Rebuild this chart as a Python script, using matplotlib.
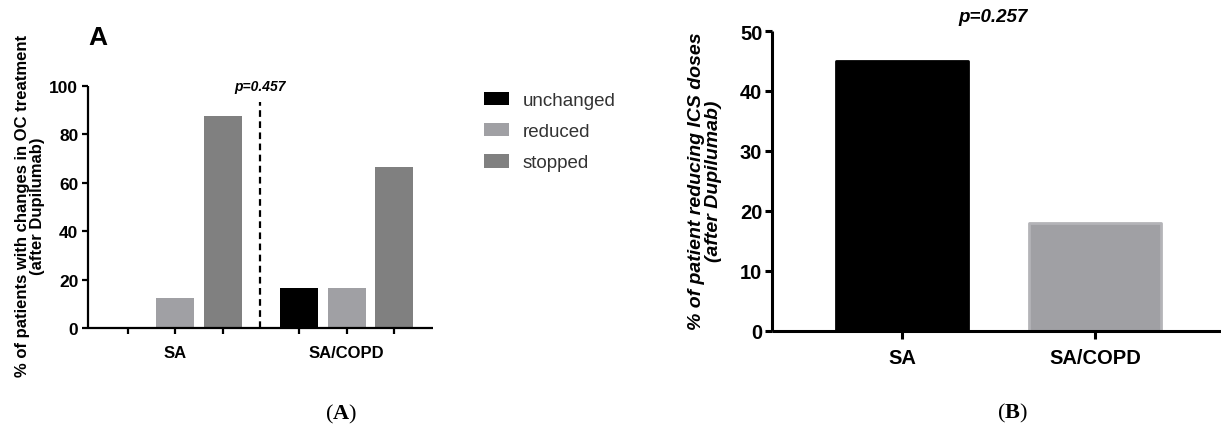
import matplotlib.pyplot as plt
import numpy as np

plt.rcParams['font.family'] = ['Liberation Sans', 'DejaVu Sans']
plt.rcParams['mathtext.fontset'] = 'custom'
plt.rcParams['mathtext.rm'] = 'Liberation Serif'
plt.rcParams['mathtext.bf'] = 'Liberation Serif:bold'

# panel A data
groups_a = ['SA', 'SA/COPD']
series_a = ['unchanged', 'reduced', 'stopped']
unchanged = [0, 16.7]
reduced = [12.5, 16.7]
stopped = [87.5, 66.7]
colors_a = ['#000000', '#A0A0A4', '#808080']

# panel B data
groups_b = ['SA', 'SA/COPD']
ics_reduce = [45.0, 18.0]
colors_b = ['#000000', '#A0A0A4']

W, H = 1221, 427
fig = plt.figure(figsize=(W / 100, H / 100), dpi=100)


def style_axes(ax, lw):
    for s in ['top', 'right']:
        ax.spines[s].set_visible(False)
    for s in ['left', 'bottom']:
        ax.spines[s].set_linewidth(lw)
        ax.spines[s].set_capstyle('butt')
    ax.tick_params(width=lw, direction='out')


# ---- panel A ----
axA = fig.add_axes([88 / W, 1 - 329 / H, (433 - 88) / W, (329 - 87) / H])
style_axes(axA, 1.6)
group_x = [0, 3.6]
vals = [unchanged, reduced, stopped]
ticks, ticklabels = [], []
for gi, gx in enumerate(group_x):
    for si in range(3):
        x = gx + si
        ticks.append(x)
        ticklabels.append(groups_a[gi] if si == 1 else '')
        axA.bar(x, vals[si][gi], width=0.8, color=colors_a[si],
                label=series_a[si] if gi == 0 else None)
axA.set_xlim(-0.84, 6.42)
axA.set_ylim(0, 100)
axA.set_yticks(np.arange(0, 101, 20))
axA.set_xticks(ticks)
axA.set_xticklabels(ticklabels, fontsize=12, fontweight='bold')
axA.tick_params(axis='x', length=4, pad=8)
axA.tick_params(axis='y', length=4, pad=3)
for lab in axA.get_yticklabels():
    lab.set_fontsize(12.5)
    lab.set_fontweight('bold')
axA.plot([2.78, 2.78], [0, 93.4], ls=(0, (3, 2)), color='black', lw=1.6, clip_on=False)
axA.text(2.78, 100, 'p=0.457', ha='center', va='center', fontsize=10,
         fontweight='bold', fontstyle='italic')
axA.set_ylabel('% of patients with changes in OC treatment\n(after Dupilumab)',
               fontsize=12, fontweight='bold', linespacing=1.05, va='center')
axA.yaxis.set_label_coords(-0.168, 0.508)
fig.text(88 / W, 1 - 38 / H, 'A', fontsize=19, fontweight='bold', ha='left', va='center')

fig.legend(loc='upper left', bbox_to_anchor=(484 / W, 1 - 93 / H), frameon=False,
           fontsize=13.5, handlelength=1.33, handleheight=0.7, labelspacing=0.75,
           handletextpad=0.75, borderpad=0, borderaxespad=0, labelcolor='#333333')

# ---- panel B ----
axB = fig.add_axes([772 / W, 1 - 332 / H, (1230 - 772) / W, (332 - 32) / H])
style_axes(axB, 2.2)
bx = np.arange(len(groups_b))
bars = axB.bar(bx, ics_reduce, width=0.68, color=colors_b, edgecolor=colors_b,
               linewidth=2, joinstyle='round', capstyle='round')
bars[1].set_edgecolor('#B4B4B8')
axB.set_xlim(-0.674, 1.699)
axB.set_ylim(0, 50)
axB.set_yticks(np.arange(0, 51, 10))
axB.set_xticks(bx)
axB.set_xticklabels(groups_b, fontsize=14.5, fontweight='bold')
axB.tick_params(axis='x', length=6, pad=6)
axB.tick_params(axis='y', length=5, pad=2)
for lab in axB.get_yticklabels():
    lab.set_fontsize(14.5)
    lab.set_fontweight('bold')
axB.text(0.47, 52.5, 'p=0.257', ha='center', va='center', fontsize=13.5,
         fontweight='bold', fontstyle='italic')
axB.set_ylabel('% of patient reducing ICS doses\n(after Dupilumab)',
               fontsize=14, fontweight='bold', fontstyle='italic',
               linespacing=1.05, va='center')
axB.yaxis.set_label_coords(-0.146, 0.503)

# captions
fig.text(341 / W, 1 - 414 / H, r'($\mathbf{A}$)', fontsize=16,
         family='Liberation Serif', ha='center', va='center')
fig.text(1012 / W, 1 - 413 / H, r'($\mathbf{B}$)', fontsize=16,
         family='Liberation Serif', ha='center', va='center')

fig.savefig('out.png', dpi=100)
